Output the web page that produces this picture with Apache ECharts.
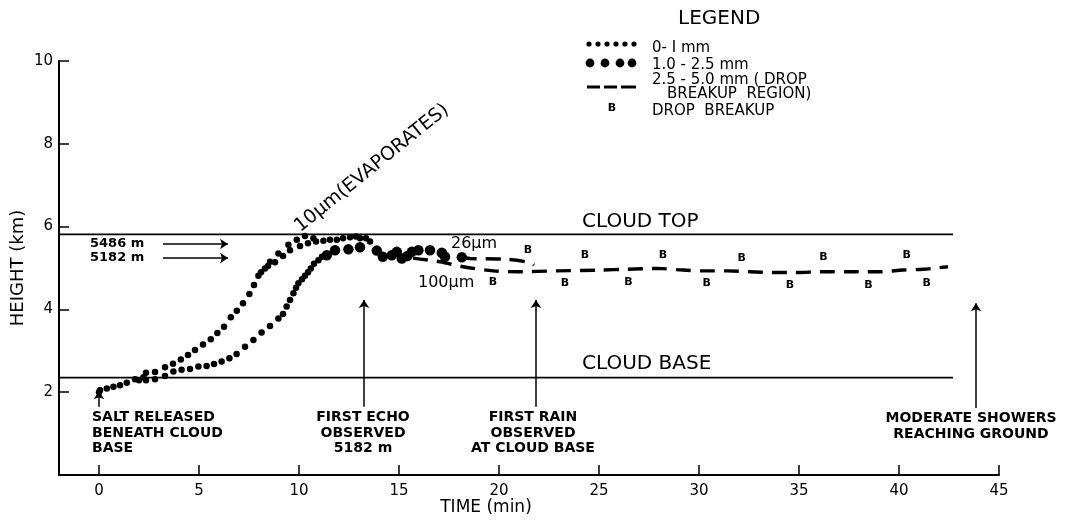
<!DOCTYPE html>
<html>
<head>
<meta charset="utf-8">
<script src="https://cdn.jsdelivr.net/npm/echarts@6/dist/echarts.min.js"></script>
<style>html,body{margin:0;padding:0;background:#fff;}#c{width:1072px;height:525px;}</style>
</head>
<body>
<div id="c"></div>
<script>
// ---- data (time in min, height in km) ----
const xTicks = [0, 5, 10, 15, 20, 25, 30, 35, 40, 45];
const yTicks = [2, 4, 6, 8, 10];
const cloudTop = [[-2, 5.81], [42.7, 5.81]];
const cloudBase = [[-2, 2.35], [42.7, 2.35]];

// small drops (0-1 mm), upper trajectory (10 µm, evaporates) incl. shared start
const smallUpper = [
  [0, 2.0], [0.05, 2.05], [0.39, 2.09], [0.72, 2.13], [1.05, 2.17], [1.39, 2.23], [1.8, 2.31], [2.22, 2.36],
  [2.35, 2.47], [2.8, 2.49], [3.3, 2.6], [3.7, 2.69], [4.09, 2.79], [4.45, 2.9], [4.8, 3.02], [5.2, 3.15],
  [5.59, 3.28], [5.92, 3.43], [6.25, 3.58], [6.59, 3.81], [6.89, 3.97], [7.2, 4.15], [7.52, 4.37], [7.75, 4.59],
  [7.97, 4.81], [8.3, 4.99], [8.55, 5.15], [8.97, 5.35], [9.47, 5.56], [9.89, 5.68], [10.3, 5.77], [10.72, 5.72],
  [11.22, 5.66], [11.55, 5.68], [11.89, 5.68], [12.2, 5.72], [12.55, 5.74], [12.85, 5.76], [13.05, 5.72],
  [13.35, 5.72], [13.55, 5.64],
  [8.1, 4.9], [8.45, 5.05], [8.8, 5.14], [9.2, 5.29], [9.55, 5.43], [10.05, 5.53], [10.45, 5.6], [10.85, 5.64]
];
// small drops, lower trajectory
const smallLower = [
  [2.0, 2.29], [2.35, 2.29], [2.8, 2.31], [3.3, 2.39], [3.72, 2.5], [4.13, 2.54], [4.55, 2.56], [4.97, 2.62],
  [5.38, 2.63], [5.75, 2.68], [6.13, 2.74], [6.52, 2.82], [6.88, 2.92], [7.3, 3.1], [7.72, 3.26], [8.13, 3.44],
  [8.55, 3.6], [8.97, 3.78], [9.2, 3.89], [9.38, 4.07], [9.55, 4.23], [9.72, 4.39], [9.85, 4.52], [9.97, 4.63],
  [10.15, 4.73], [10.3, 4.81], [10.45, 4.9], [10.59, 4.99], [10.75, 5.1], [10.97, 5.19], [11.15, 5.27]
];
// large drops (1.0-2.5 mm)
const largeDots = [
  [11.39, 5.31], [11.8, 5.43], [12.47, 5.45], [13.05, 5.5], [13.89, 5.42], [14.19, 5.27], [14.64, 5.31],
  [14.89, 5.39], [15.14, 5.23], [15.42, 5.29], [15.64, 5.39], [15.97, 5.43], [16.55, 5.43], [17.14, 5.37],
  [17.3, 5.27], [18.14, 5.26]
];
// 2.5-5.0 mm (drop breakup region)
const dashed26 = [[18.14, 5.26], [18.55, 5.23], [20.39, 5.21], [21.55, 5.13], [21.75, 5.07]];
const dashed100 = [
  [15.7, 5.24], [17.05, 5.15], [18.2, 5.03], [19.7, 4.93], [20.89, 4.91], [22.89, 4.93], [25.05, 4.95],
  [26.39, 4.97], [27.89, 4.99], [29.2, 4.95], [30.2, 4.93], [31.39, 4.93], [32.55, 4.91], [33.7, 4.89],
  [34.89, 4.89], [36.14, 4.91], [37.47, 4.91], [39.05, 4.91], [40.2, 4.95], [41.2, 4.97], [42.45, 5.03]
];
// drop breakup marks
const breakups = [
  [19.7, 4.67], [21.45, 5.43], [23.3, 4.63], [24.3, 5.31], [26.47, 4.67], [28.2, 5.31], [30.39, 4.63],
  [32.14, 5.23], [34.55, 4.59], [36.22, 5.27], [38.47, 4.59], [40.39, 5.31], [41.39, 4.63]
];
// arrows [from, to]
const arrows = [
  [[3.2, 5.58], [6.45, 5.58]],
  [[3.2, 5.24], [6.45, 5.24]],
  [[0, 1.65], [0, 2.02]],
  [[13.25, 1.65], [13.25, 4.23]],
  [[21.85, 1.65], [21.85, 4.23]],
  [[43.85, 1.62], [43.85, 4.15]]
];
// text annotations: [time, height, text]
const eventNotes = [
  [13.2, 1.01, 'FIRST ECHO\nOBSERVED\n5182 m'],
  [21.7, 1.01, 'FIRST RAIN\nOBSERVED\nAT CLOUD BASE'],
  [43.6, 1.17, 'MODERATE SHOWERS\nREACHING GROUND']
];
const leftNotes = [[-0.35, 1.01, 'SALT RELEASED\nBENEATH CLOUD\nBASE']];
const heightNotes = [[-0.45, 5.58, '5486 m'], [-0.45, 5.24, '5182 m']];
const levelNotes = [[24.15, 6.12, 'CLOUD TOP'], [24.15, 2.68, 'CLOUD BASE']];
const sizeNotes = [[17.6, 5.58, '26µm'], [15.95, 4.65, '100µm']];
const slantNotes = [[10.2, 5.77, '10µm(EVAPORATES)']];
const legendItems = ['0- I mm', '1.0 - 2.5 mm', '2.5 - 5.0 mm ( DROP', 'BREAKUP  REGION)', 'DROP  BREAKUP'];

// ---- chart ----
const FONT = 'DejaVu Sans';
const chart = echarts.init(document.getElementById('c'), null, {renderer: 'canvas'});

function textSeries(arr, labelOpts) {
  return {
    type: 'scatter', silent: true, symbolSize: 1, clip: false,
    itemStyle: {color: 'rgba(0,0,0,0)', opacity: 1},
    data: arr.map(a => ({value: [a[0], a[1]], name: a[2]})),
    label: Object.assign({
      show: true, position: 'inside', formatter: p => p.name, color: '#000',
      fontFamily: FONT
    }, labelOpts),
    z: 5
  };
}

const black = '#000';
const legendGraphic = [];
[589, 598, 607, 616, 625, 634].forEach(x => legendGraphic.push({type: 'circle', shape: {cx: x, cy: 44, r: 2.6}, style: {fill: black}}));
[590, 605, 620, 632].forEach(x => legendGraphic.push({type: 'circle', shape: {cx: x, cy: 63, r: 4.4}, style: {fill: black}}));
[[587, 600], [604, 617], [621, 636]].forEach(s => legendGraphic.push({type: 'line', shape: {x1: s[0], y1: 87, x2: s[1], y2: 87}, style: {stroke: black, lineWidth: 3}}));
legendGraphic.push({type: 'text', x: 612, y: 108, style: {text: 'B', font: 'bold 11px ' + FONT, fill: black, align: 'center', verticalAlign: 'middle'}});
legendGraphic.push({type: 'text', x: 678, y: 19, style: {text: 'LEGEND', font: '20px ' + FONT, fill: black, verticalAlign: 'middle'}});
const legendRows = [[652, 48], [652, 65], [652, 80.5], [667, 94], [652, 111]];
legendItems.forEach((t, i) => legendGraphic.push({type: 'text', x: legendRows[i][0], y: legendRows[i][1], style: {text: t, font: '15px ' + FONT, fill: black, verticalAlign: 'middle'}}));
legendGraphic.push({type: 'text', x: 486, y: 508, style: {text: 'TIME (min)', font: '17px ' + FONT, fill: black, align: 'center', verticalAlign: 'middle'}});

chart.setOption({
  animation: false,
  backgroundColor: '#fff',
  grid: {left: 59, right: 73, top: 61, bottom: 50, containLabel: false, outerBoundsMode: 'none'},
  xAxis: {
    type: 'value', min: -2, max: 45,
    axisLine: {onZero: false, lineStyle: {color: black, width: 2}},
    axisTick: {show: true, inside: true, length: 10, customValues: xTicks, lineStyle: {color: black, width: 1.5}},
    axisLabel: {customValues: xTicks, color: black, fontSize: 15, fontFamily: FONT, margin: 9},
    splitLine: {show: false}
  },
  yAxis: {
    type: 'value', min: 0, max: 10,
    name: 'HEIGHT (km)', nameLocation: 'middle', nameGap: 32, nameRotate: 90, nameMoveOverlap: false,
    nameTextStyle: {color: black, fontSize: 18, fontFamily: FONT},
    axisLine: {show: true, onZero: false, lineStyle: {color: black, width: 2}},
    axisTick: {show: true, inside: true, length: 10, customValues: yTicks, lineStyle: {color: black, width: 1.5}},
    axisLabel: {customValues: yTicks, color: black, fontSize: 15, fontFamily: FONT, margin: 6},
    splitLine: {show: false}
  },
  graphic: legendGraphic,
  series: [
    {type: 'line', data: cloudTop, symbol: 'none', silent: true, lineStyle: {color: black, width: 1.8}},
    {type: 'line', data: cloudBase, symbol: 'none', silent: true, lineStyle: {color: black, width: 1.8}},
    {type: 'scatter', data: smallUpper, symbolSize: 6.5, itemStyle: {color: black, opacity: 1}, silent: true},
    {type: 'scatter', data: smallLower, symbolSize: 6.5, itemStyle: {color: black, opacity: 1}, silent: true},
    {type: 'scatter', data: largeDots, symbolSize: 10.5, itemStyle: {color: black, opacity: 1}, silent: true},
    {type: 'line', data: dashed26, symbol: 'none', smooth: 0.3, silent: true, lineStyle: {color: black, width: 3.4, type: [15, 9]}},
    {type: 'line', data: dashed100, symbol: 'none', smooth: 0.3, silent: true, lineStyle: {color: black, width: 3.4, type: [15, 9]}},
    {
      type: 'lines', coordinateSystem: 'cartesian2d', silent: true,
      symbol: ['none', 'arrow'], symbolSize: 8,
      lineStyle: {color: black, width: 1.5, opacity: 1},
      data: arrows.map(c => ({coords: c}))
    },
    textSeries(breakups.map(b => [b[0], b[1], 'B']), {fontSize: 11, fontWeight: 'bold'}),
    textSeries(eventNotes, {fontSize: 14, fontWeight: 'bold', align: 'center', lineHeight: 15.5}),
    textSeries(leftNotes, {fontSize: 14, fontWeight: 'bold', align: 'left', lineHeight: 15.5}),
    textSeries(heightNotes, {fontSize: 13, fontWeight: 'bold', align: 'left'}),
    textSeries(levelNotes, {fontSize: 20, align: 'left'}),
    textSeries(sizeNotes, {fontSize: 16, align: 'left'}),
    textSeries(slantNotes, {fontSize: 19, align: 'left', verticalAlign: 'bottom', rotate: 39})
  ]
});
</script>
</body>
</html>
